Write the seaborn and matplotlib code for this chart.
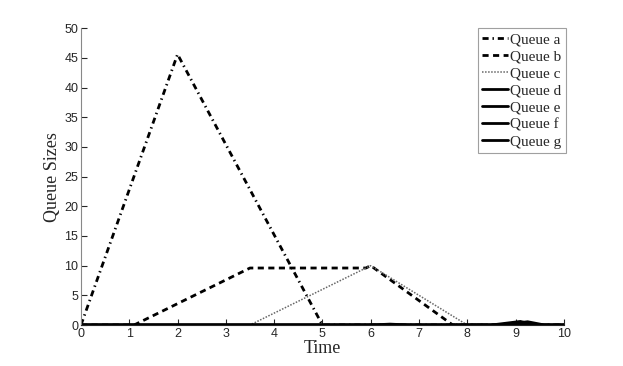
import matplotlib
matplotlib.use("Agg")
import matplotlib.pyplot as plt
import seaborn as sns
import pandas as pd

# values
time_a = [0, 2, 5, 10]
queue_a = [0, 45.6, 0, 0]
time_b = [0, 1.1, 3.5, 5.9, 6.0, 7.7, 10]
queue_b = [0, 0, 9.6, 9.6, 10, 0, 0]
time_c = [0, 3.5, 6.0, 8.0, 10]
queue_c = [0, 0, 10, 0, 0]
time_d = [0, 6.0, 6.4, 6.8, 8.5, 8.9, 9.1, 9.4, 10]
queue_d = [0, 0, 0.15, 0, 0, 0.4, 0.6, 0, 0]
time_e = [0, 8.6, 9.0, 9.25, 9.6, 10]
queue_e = [0, 0, 0.3, 0.55, 0, 0]
time_f = [0, 8.7, 9.05, 9.4, 10]
queue_f = [0, 0, 0.25, 0, 0]
time_g = [0, 8.8, 9.15, 9.5, 10]
queue_g = [0, 0, 0.2, 0, 0]

series = [
    ("Queue a", time_a, queue_a, (0, (2.2, 1.4, 0.5, 1.4)), 2.0, "black"),
    ("Queue b", time_b, queue_b, (0, (2.2, 1.6)), 2.0, "black"),
    ("Queue c", time_c, queue_c, (0, (1, 1)), 1.1, "#666666"),
    ("Queue d", time_d, queue_d, "-", 2.0, "black"),
    ("Queue e", time_e, queue_e, "-", 2.0, "black"),
    ("Queue f", time_f, queue_f, "-", 2.0, "black"),
    ("Queue g", time_g, queue_g, "-", 2.0, "black"),
]

sns.set_style("ticks")
plt.rcParams['font.family'] = ['Liberation Sans', 'DejaVu Sans']

fig = plt.figure(figsize=(6.23, 3.66), dpi=100)
ax = fig.add_axes([0.130, 0.112, 0.775, 0.811])

for name, t, q, ls, lw, col in series:
    df = pd.DataFrame({"Time": t, "Size": q})
    sns.lineplot(data=df, x="Time", y="Size", ax=ax, label=name,
                 color=col, linewidth=lw, linestyle=ls)

ax.set_xlim(0, 10)
ax.set_ylim(0, 50)
ax.set_xticks(range(0, 11))
ax.set_yticks(range(0, 51, 5))
ax.tick_params(direction="in", length=4, labelsize=9, pad=2)
ax.spines["top"].set_visible(False)
ax.spines["right"].set_visible(False)
ax.spines["left"].set_color("#888888")
ax.set_xlabel("Time", fontsize=13, family="Liberation Serif", labelpad=0)
ax.set_ylabel("Queue Sizes", fontsize=13, family="Liberation Serif", labelpad=2)

leg = ax.legend(loc="upper right", bbox_to_anchor=(1.005, 1.0), fancybox=False,
                prop={"family": "Liberation Serif", "size": 11},
                handlelength=1.7, handletextpad=0.15, labelspacing=0.22,
                borderpad=0.3, borderaxespad=0.0)
leg.get_frame().set_edgecolor("#888888")
leg.get_frame().set_linewidth(0.8)

fig.savefig("out.png", dpi=100)
